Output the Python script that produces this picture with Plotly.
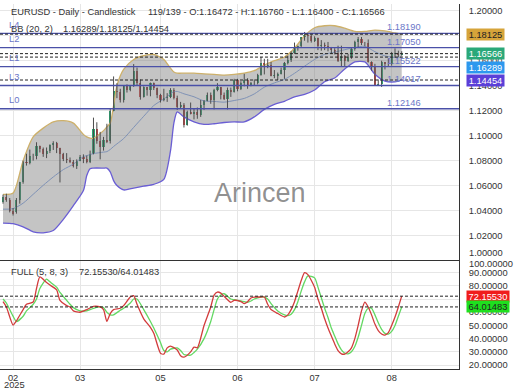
import plotly.graph_objects as go

# ---------------- data ----------------
bars = list(range(120))
open_ = [1.0465,1.0512,1.0485,1.0398,1.0385,1.0483,1.0625,1.0790,1.0784,1.0833,
         1.0834,1.0918,1.0889,1.0852,1.0880,1.0922,1.0944,1.0899,1.0853,1.0816,
         1.0802,1.0792,1.0753,1.0800,1.0829,1.0816,1.0792,1.0851,1.1052,1.0960,
         1.0907,1.0961,1.0955,1.1200,1.1357,1.1348,1.1285,1.1398,1.1367,1.1394,
         1.1514,1.1419,1.1313,1.1388,1.1364,1.1420,1.1379,1.1329,1.1289,1.1298,
         1.1313,1.1369,1.1300,1.1230,1.1249,1.1088,1.1191,1.1176,1.1187,1.1164,
         1.1242,1.1280,1.1329,1.1282,1.1363,1.1389,1.1327,1.1292,1.1369,1.1347,
         1.1444,1.1372,1.1418,1.1446,1.1397,1.1421,1.1425,1.1487,1.1584,1.1550,
         1.1562,1.1478,1.1480,1.1495,1.1523,1.1578,1.1608,1.1663,1.1701,1.1718,
         1.1787,1.1803,1.1799,1.1754,1.1778,1.1714,1.1725,1.1720,1.1702,1.1688,
         1.1662,1.1598,1.1640,1.1594,1.1627,1.1690,1.1752,1.1772,1.1744,1.1740,
         1.1588,1.1546,1.1405,1.1415,1.1587,1.1573,1.1575,1.1657,1.1665,1.16472]
high = [1.0528,1.0535,1.0500,1.0420,1.0500,1.0630,1.0800,1.0855,1.0888,1.0855,
        1.0947,1.0920,1.0905,1.0905,1.0930,1.0955,1.0950,1.0903,1.0862,1.0860,
        1.0825,1.0805,1.0810,1.0845,1.0850,1.0840,1.0880,1.1144,1.1107,1.1030,
        1.0990,1.1095,1.1214,1.1474,1.1420,1.1375,1.1400,1.1410,1.1395,1.1573,
        1.1545,1.1450,1.1395,1.1390,1.1425,1.1425,1.1385,1.1335,1.1375,1.1340,
        1.1380,1.1380,1.1320,1.1270,1.1260,1.1200,1.1265,1.1215,1.1225,1.1285,
        1.1285,1.1345,1.1345,1.1375,1.1420,1.1390,1.1345,1.1385,1.1385,1.1455,
        1.1455,1.1435,1.1495,1.1460,1.1430,1.1450,1.1495,1.1630,1.1615,1.1615,
        1.1590,1.1525,1.1505,1.1545,1.1590,1.1640,1.1675,1.1745,1.1720,1.1790,
        1.1830,1.1815,1.1810,1.1795,1.1785,1.1765,1.1745,1.1750,1.1710,1.1700,
        1.1720,1.1720,1.1645,1.1655,1.1700,1.1760,1.1790,1.1790,1.1750,1.1770,
        1.1595,1.1575,1.1450,1.1600,1.1590,1.1620,1.1670,1.1699,1.1680,1.16760]
low = [1.0455,1.0470,1.0385,1.0360,1.0375,1.0455,1.0615,1.0760,1.0770,1.0800,
       1.0810,1.0865,1.0830,1.0820,1.0860,1.0885,1.0860,1.0625,1.0796,1.0780,
       1.0780,1.0745,1.0733,1.0795,1.0780,1.0778,1.0780,1.0850,1.0935,1.0810,
       1.0880,1.0940,1.0937,1.1195,1.1300,1.1265,1.1265,1.1345,1.1355,1.1390,
       1.1405,1.1288,1.1305,1.1320,1.1315,1.1365,1.1300,1.1265,1.1275,1.1270,
       1.1300,1.1290,1.1205,1.1215,1.1065,1.1080,1.1170,1.1130,1.1135,1.1150,
       1.1205,1.1275,1.1255,1.1210,1.1355,1.1290,1.1285,1.1210,1.1310,1.1345,
       1.1355,1.1365,1.1395,1.1375,1.1395,1.1400,1.1410,1.1480,1.1490,1.1540,
       1.1475,1.1460,1.1445,1.1490,1.1455,1.1570,1.1590,1.1655,1.1680,1.1705,
       1.1760,1.1745,1.1745,1.1750,1.1685,1.1680,1.1685,1.1675,1.1655,1.1650,
       1.1590,1.1555,1.1555,1.1590,1.1615,1.1680,1.1705,1.1725,1.1715,1.1585,
       1.1520,1.1400,1.1400,1.1390,1.1530,1.1555,1.1560,1.1625,1.1630,1.16400]
close = [1.0512,1.0485,1.0398,1.0375,1.0483,1.0625,1.0790,1.0784,1.0833,1.0834,
         1.0918,1.0889,1.0852,1.0880,1.0922,1.0944,1.0899,1.0853,1.0816,1.0802,
         1.0792,1.0753,1.0800,1.0829,1.0816,1.0792,1.0851,1.1052,1.0960,1.0907,
         1.0961,1.0952,1.1196,1.1357,1.1348,1.1285,1.1398,1.1367,1.1394,1.1514,
         1.1419,1.1313,1.1388,1.1364,1.1420,1.1379,1.1329,1.1289,1.1298,1.1313,
         1.1369,1.1300,1.1230,1.1249,1.1088,1.1191,1.1176,1.1187,1.1164,1.1242,
         1.1280,1.1329,1.1282,1.1363,1.1389,1.1327,1.1292,1.1369,1.1347,1.1444,
         1.1372,1.1418,1.1446,1.1397,1.1421,1.1425,1.1487,1.1584,1.1550,1.1562,
         1.1478,1.1480,1.1495,1.1523,1.1578,1.1608,1.1663,1.1701,1.1718,1.1787,
         1.1803,1.1799,1.1754,1.1778,1.1714,1.1725,1.1720,1.1702,1.1688,1.1662,
         1.1598,1.1640,1.1594,1.1627,1.1690,1.1752,1.1772,1.1744,1.1740,1.1588,
         1.1546,1.1405,1.1415,1.1587,1.1573,1.1575,1.1657,1.1665,1.1642,1.16566]

bb_bar = [0,3,6,9,12,15,18,21,24,25,26,27,30,31,32,33,34,36,39,42,45,48,50,51,52,54,57,60,
          63,66,69,72,75,78,81,84,87,90,93,96,99,102,105,108,111,114,117,119]
bb_upper = [1.0530,1.0540,1.0800,1.0990,1.1060,1.1110,1.1120,1.1100,1.1010,1.0990,1.0980,
            1.0980,1.1040,1.1070,1.1100,1.1240,1.1400,1.1530,1.1610,1.1640,1.1650,1.1610,
            1.1540,1.1510,1.1500,1.1500,1.1500,1.1495,1.1490,1.1485,1.1490,1.1500,1.1520,
            1.1565,1.1600,1.1630,1.1700,1.1800,1.1864,1.1880,1.1880,1.1860,1.1835,1.1835,
            1.1845,1.1838,1.1822,1.18125]
bb_mid = [1.0411,1.0415,1.0459,1.0530,1.0602,1.0669,1.0728,1.0772,1.0832,1.0840,1.0848,
          1.0856,1.0868,1.0872,1.0889,1.0913,1.0934,1.0976,1.1066,1.1155,1.1241,1.1294,
          1.1335,1.1352,1.1354,1.1335,1.1311,1.1278,1.1274,1.1268,1.1281,1.1298,1.1334,
          1.1388,1.1422,1.1450,1.1499,1.1556,1.1610,1.1651,1.1669,1.1688,1.1706,1.1715,
          1.1672,1.1638,1.1626,1.16289]
bb_lower = [1.0300,1.0295,1.0270,1.0230,1.0222,1.0240,1.0330,1.0440,1.0560,1.0680,1.0735,
            1.0740,1.0740,1.0740,1.0710,1.0640,1.0600,1.0565,1.0580,1.0595,1.0610,1.0650,
            1.0880,1.1100,1.1190,1.1150,1.1110,1.1090,1.1095,1.1105,1.1110,1.1110,1.1150,
            1.1210,1.1250,1.1275,1.1310,1.1330,1.1365,1.1431,1.1461,1.1534,1.1590,1.1590,
            1.1492,1.1437,1.1430,1.14454]

stoch_bar = [0,1,3,4,6,7,9,10,11,13, 14,16,17,19,20,21,23,25,27,29,
             30,31,32,33,35,36,38,39,40,42, 44,45,47,48,49,50,52,53,54,56,
             57,58,60,62,63,64,65,66,68,69, 71,72,73,74,75,77,78,79,80,82,
             84,85,86,87,88,89,90,91,93,94, 95,96,97,98,99,100,101,102,103,104,
             105,106,107,108,109,110,111,112,113,114, 115,116,117,118,119]
stoch_k = [68,64,50.3,53.5,62,66,67.7,78,86.7,82.5, 80.6,77,69,65,64,61,60,62,64.5,64,
           62,53,59,62,63,65,71.5,72.5,66,55, 48.5,44,29,28.3,33,34.4,31.4,27,26,30,
           33.6,33,50,64,73,75.3,74.5,72,67.5,69, 68,66.5,68,70.8,71.5,71.5,71.5,66,62,59,
           56.4,58,62,68,76,84,90,88.5,79,70, 63,55,48,42,36,31,28.5,28.3,30,33,
           40,50,61,67.7,64,58,51,46,43.5,42.7, 44.5,50,56.4,64,72.1553]
stoch_d = [70,67,57,53,57,61,66,70,78,85, 83,79,75,69,66,63.5,61,61,63,64,
           63.5,60,58,58,61.5,63,67,70,70,62, 53,48,37,31,30,32,33,31,28,27.5,
           29.5,32,40,53,62,70,73,74,70,69.5, 68.5,68,67.5,68.5,70,71.5,71.5,70,66.5,61,
           58,57.5,58.5,62,68,76,83,87.5,86,79, 71,63,56,48,42,36,31.5,29,28.5,30,
           34,41,50,59,63,63,58,52,47,44, 43.5,45.5,50,57,64.01483]

level_names = ["L4", "L2", "L1", "L3", "L0"]
level_values = [1.18190, 1.17050, 1.15522, 1.14017, 1.12146]

tick_bars = [3, 23, 47, 70, 93, 116]
tick_labels = ["02", "03", "05", "06", "07", "08"]
year_label = "2025"
price_ticks = [1.02, 1.04, 1.06, 1.08, 1.10, 1.12, 1.14, 1.16, 1.18, 1.20]
stoch_ticks = [20, 30, 40, 50, 60, 70, 80, 90]

header_left = "EURUSD - Daily - Candlestick"
header_right = "119/139 - O:1.16472 - H:1.16760 - L:1.16400 - C:1.16566"
bb_name = "BB (20, 2)"
stoch_name = "FULL (5, 8, 3)"

# ---------------- layout geometry ----------------
W, H = 520, 390
ML, MR, MT, MB = 0, 61, 4, 21
PW, PH = W - ML - MR, H - MT - MB
SPLIT = 108 / PH
FONT = "Liberation Sans, Arial, sans-serif"
FS = 9.3
TXT = "#333333"
UP, DOWN = "#28a872", "#d64848"
LVL = "#4a50a8"
LVL_TXT = "#6b76c8"
GRID = "#e6e6e6"


def fx(p):
    return (p - ML) / PW


def fy(p):
    return 1 - (p - MT) / PH


fig = go.Figure()

# Bollinger band
fig.add_trace(go.Scatter(x=bb_bar, y=bb_upper, mode="lines",
                         line=dict(color="#cdb06a", width=1.3, shape="spline", smoothing=0.7),
                         hoverinfo="skip", showlegend=False, xaxis="x", yaxis="y"))
fig.add_trace(go.Scatter(x=bb_bar, y=bb_lower, mode="lines",
                         line=dict(color="#6a5ed4", width=1.3, shape="spline", smoothing=0.7),
                         fill="tonexty", fillcolor="rgba(125,125,125,0.45)",
                         hoverinfo="skip", showlegend=False, xaxis="x", yaxis="y"))
fig.add_trace(go.Scatter(x=bb_bar, y=bb_mid, mode="lines",
                         line=dict(color="#7f92b6", width=1, shape="spline", smoothing=0.7),
                         hoverinfo="skip", showlegend=False, xaxis="x", yaxis="y"))

# candle wicks
wx, wy = [], []
for b, h_, l_ in zip(bars, high, low):
    wx += [b, b, None]
    wy += [l_, h_, None]
fig.add_trace(go.Scatter(x=wx, y=wy, mode="lines", line=dict(color="#4d4d4d", width=1),
                         hoverinfo="skip", showlegend=False, xaxis="x", yaxis="y"))

# candle bodies
base = [min(o, c) for o, c in zip(open_, close)]
size = [max(abs(c - o), 0.0004) for o, c in zip(open_, close)]
cols = [UP if c >= o else DOWN for o, c in zip(open_, close)]
fig.add_trace(go.Bar(x=bars, y=size, base=base, width=0.64,
                     marker=dict(color=cols, line=dict(width=0)),
                     hoverinfo="skip", showlegend=False, xaxis="x", yaxis="y"))

# stochastic
fig.add_trace(go.Scatter(x=stoch_bar, y=stoch_d, mode="lines",
                         line=dict(color="#62d862", width=1.3, shape="spline", smoothing=0.6),
                         hoverinfo="skip", showlegend=False, xaxis="x2", yaxis="y2"))
fig.add_trace(go.Scatter(x=stoch_bar, y=stoch_k, mode="lines",
                         line=dict(color="#d23c3c", width=1.3, shape="spline", smoothing=0.6),
                         hoverinfo="skip", showlegend=False, xaxis="x2", yaxis="y2"))

shapes = []
for v in level_values:
    shapes.append(dict(type="line", xref="x domain", x0=0, x1=1, yref="y", y0=v, y1=v,
                       line=dict(color=LVL, width=1.4), layer="above"))
for v in [close[-1], bb_mid[-1], bb_upper[-1], bb_lower[-1]]:
    shapes.append(dict(type="line", xref="x domain", x0=0, x1=1, yref="y", y0=v, y1=v,
                       line=dict(color="#222222", width=1, dash="3px,2px"), layer="above"))
for v in [stoch_k[-1], stoch_d[-1]]:
    shapes.append(dict(type="line", xref="x2 domain", x0=0, x1=1, yref="y2", y0=v, y1=v,
                       line=dict(color="#222222", width=1, dash="3px,2px"), layer="above"))

ann = []
fnt = dict(family=FONT, size=FS, color=TXT)


def txt(text, xp, yp, anchor="left", font=None):
    ann.append(dict(text=text, x=fx(xp), y=fy(yp), xref="paper", yref="paper",
                    xanchor=anchor, yanchor="middle", showarrow=False, font=font or fnt))


txt(header_left, 9, 12)
txt(header_right, 146, 12)
txt(bb_name, 9, 29)
txt(f"{bb_mid[-1]:.5f}/{bb_upper[-1]:.5f}/{bb_lower[-1]:.5f}", 61, 29)
txt(stoch_name, 9, 272)
txt(f"{stoch_k[-1]:.5f}/{stoch_d[-1]:.5f}", 77, 272)
txt(year_label, 14, 385, anchor="center")
txt("1.00000", 467, 253)
txt("100.00000", 467, 264)
txt("Arincen", 260, 193, anchor="center",
    font=dict(family=FONT, size=27, color="rgba(95,95,95,0.7)"))

for name, v in zip(level_names, level_values):
    ann.append(dict(text=name, x=fx(7), xref="paper", y=v, yref="y", yshift=8.5,
                    xanchor="left", yanchor="middle", showarrow=False,
                    font=dict(family=FONT, size=FS, color=LVL_TXT)))
    ann.append(dict(text=f"{v:.5f}", x=fx(385), xref="paper", y=v, yref="y", yshift=6,
                    xanchor="left", yanchor="middle", showarrow=False,
                    font=dict(family=FONT, size=FS, color=LVL_TXT)))

# axis value boxes
boxes = [(bb_upper[-1], "#d6a43a", "#222222", 0),
         (close[-1], "#2aa879", "#ffffff", 0),
         (bb_mid[-1], "#2d98ee", "#ffffff", -10),
         (bb_lower[-1], "#5b3fd8", "#ffffff", 0)]
for v, bg, fc, sh in boxes:
    ann.append(dict(text=f"{v:.5f}", x=fx(466), xref="paper", y=v, yref="y", yshift=sh,
                    xanchor="left", yanchor="middle", showarrow=False, bgcolor=bg,
                    width=37, height=11, borderpad=0,
                    font=dict(family=FONT, size=FS, color=fc)))
for v, bg, fc in [(stoch_k[-1], "#f01c1c", "#ffffff"), (stoch_d[-1], "#1ee01e", "#222222")]:
    ann.append(dict(text=f"{v:.5f}", x=fx(466), xref="paper", y=v, yref="y2",
                    xanchor="left", yanchor="middle", showarrow=False, bgcolor=bg,
                    width=42, height=11, borderpad=0,
                    font=dict(family=FONT, size=FS, color=fc)))

xr = [-0.9, 136.1]
fig.update_layout(
    width=W, height=H, margin=dict(l=ML, r=MR, t=MT, b=MB, pad=0, autoexpand=False),
    paper_bgcolor="white", plot_bgcolor="white", showlegend=False,
    bargap=0, hovermode=False,
    xaxis=dict(domain=[0, 1], anchor="y", range=xr, tickvals=tick_bars, showticklabels=False,
               showgrid=True, gridcolor=GRID, gridwidth=1, zeroline=False, showline=False,
               ticks="", automargin=False),
    xaxis2=dict(domain=[0, 1], anchor="y2", range=xr, tickvals=tick_bars, ticktext=tick_labels,
                showgrid=True, gridcolor=GRID, gridwidth=1, zeroline=False,
                showline=True, linecolor="#333333", linewidth=1, mirror=True, ticks="",
                automargin=False, tickfont=dict(family=FONT, size=FS, color=TXT)),
    yaxis=dict(domain=[SPLIT, 1], anchor="x", side="right", range=[0.9996, 1.2054],
               tickvals=price_ticks, tickformat=".5f", showgrid=True, gridcolor=GRID,
               zeroline=False, showline=True, linecolor="#333333", linewidth=1, ticks="",
               automargin=False, ticklabelstandoff=7,
               tickfont=dict(family=FONT, size=FS, color=TXT)),
    yaxis2=dict(domain=[0, SPLIT], anchor="x2", side="right", range=[17, 98.8],
                tickvals=stoch_ticks, tickformat=".5f", showgrid=True, gridcolor=GRID,
                zeroline=False, showline=True, linecolor="#333333", linewidth=1, ticks="",
                automargin=False, ticklabelstandoff=7,
                tickfont=dict(family=FONT, size=FS, color=TXT)),
    shapes=shapes, annotations=ann,
)

fig.write_html("out.html", config={"displayModeBar": False, "staticPlot": True},
               post_script="document.body.style.margin='0px';")
